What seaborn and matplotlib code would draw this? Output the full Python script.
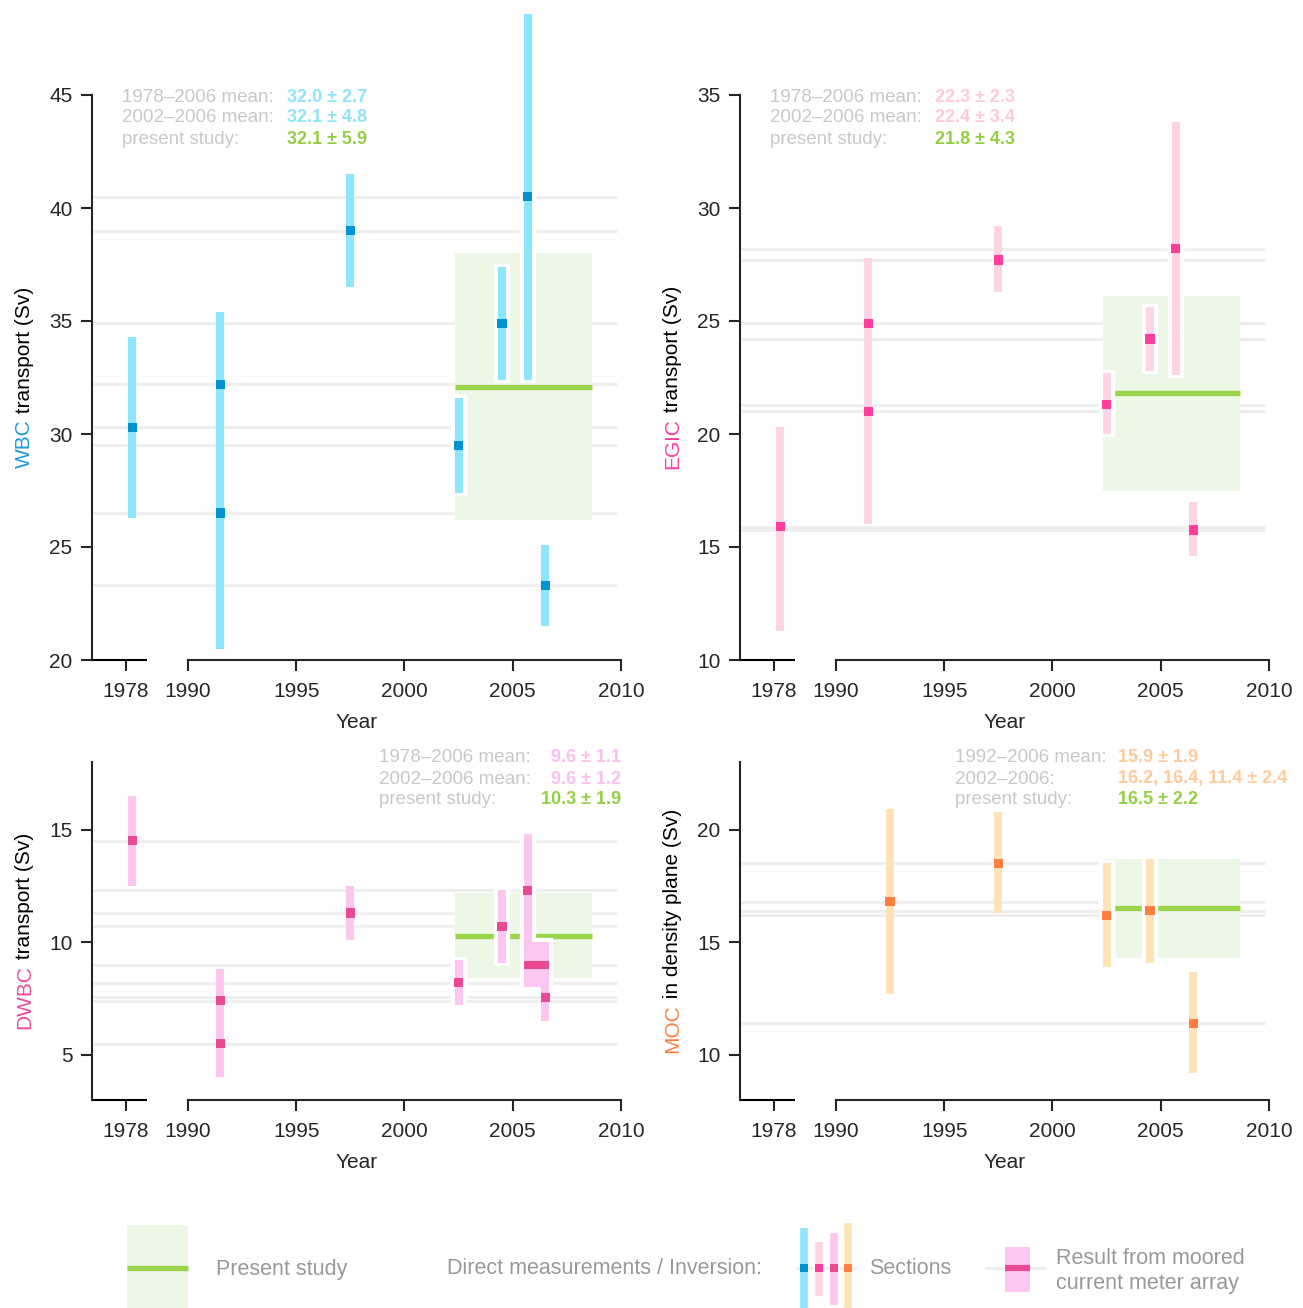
import matplotlib
matplotlib.use("Agg")
import matplotlib.pyplot as plt
from matplotlib import font_manager
from matplotlib.patches import Rectangle
import seaborn as sns

W, H = 1303, 1308

# --- measurements per panel: year, value, lower/upper end of the bar ---
wbc_year = [1978.3, 1991.5, 1991.5, 1997.5, 2002.5, 2004.5, 2005.7, 2006.5]
wbc_val = [30.3, 32.2, 26.5, 39.0, 29.5, 34.9, 40.5, 23.3]
wbc_lo = [26.3, 29.0, 20.5, 36.5, 27.4, 32.4, 32.4, 21.5]
wbc_hi = [34.3, 35.4, 32.5, 41.5, 31.6, 37.4, 48.6, 25.1]

egic_year = [1978.3, 1991.5, 1991.5, 1997.5, 2002.5, 2004.5, 2005.7, 2006.5]
egic_val = [15.9, 24.9, 21.0, 27.7, 21.3, 24.2, 28.2, 15.75]
egic_lo = [11.3, 22.0, 16.0, 26.3, 20.0, 22.8, 22.6, 14.6]
egic_hi = [20.3, 27.8, 26.1, 29.2, 22.7, 25.6, 33.8, 17.0]

dwbc_year = [1978.3, 1991.5, 1991.5, 1997.5, 2002.5, 2004.5, 2005.7, 2006.5]
dwbc_val = [14.5, 7.4, 5.5, 11.3, 8.2, 10.7, 12.3, 7.55]
dwbc_lo = [12.5, 5.9, 4.0, 10.1, 7.2, 9.1, 9.8, 6.5]
dwbc_hi = [16.5, 8.8, 7.0, 12.5, 9.2, 12.3, 14.8, 8.1]

moc_year = [1992.5, 1997.5, 2002.5, 2004.5, 2006.5]
moc_val = [16.8, 18.5, 16.2, 16.4, 11.4]
moc_lo = [12.7, 16.3, 13.9, 14.1, 9.2]
moc_hi = [20.9, 20.8, 18.5, 18.7, 13.7]

# present study (mean, std) and its period
study_mean = {"WBC": 32.1, "EGIC": 21.8, "DWBC": 10.3, "MOC": 16.5}
study_std = {"WBC": 5.9, "EGIC": 4.3, "DWBC": 1.9, "MOC": 2.2}
study_period = (2002.35, 2008.68)

# moored current meter array result (DWBC only)
moor_mean, moor_std, moor_period = 9.0, 1.0, (2005.52, 2006.68)

# text block in the upper part of each panel
stats_labels = {
    "WBC": ["1978\u20132006 mean:", "2002\u20132006 mean:", "present study:"],
    "EGIC": ["1978\u20132006 mean:", "2002\u20132006 mean:", "present study:"],
    "DWBC": ["1978\u20132006 mean:", "2002\u20132006 mean:", "present study:"],
    "MOC": ["1992\u20132006 mean:", "2002\u20132006:", "present study:"],
}
stats_values = {
    "WBC": ["32.0 \u00b1 2.7", "32.1 \u00b1 4.8", "32.1 \u00b1 5.9"],
    "EGIC": ["22.3 \u00b1 2.3", "22.4 \u00b1 3.4", "21.8 \u00b1 4.3"],
    "DWBC": ["9.6 \u00b1 1.1", "9.6 \u00b1 1.2", "10.3 \u00b1 1.9"],
    "MOC": ["15.9 \u00b1 1.9", "16.2, 16.4, 11.4 \u00b1 2.4", "16.5 \u00b1 2.2"],
}

x_ticks = [1978, 1990, 1995, 2000, 2005, 2010]
BREAK_SHIFT = 9.14          # 1978 is drawn left of the axis break
XLIM = (1985.57, 2010)
LEFT_SEG_END = 1988.1

sns.set_style("ticks")
names = {f.name for f in font_manager.fontManager.ttflist}
base = "Liberation Sans Narrow" if "Liberation Sans Narrow" in names else "Liberation Sans"
plt.rcParams["font.family"] = [base, "DejaVu Sans"]
plt.rcParams["axes.linewidth"] = 1.5

GREEN = "#9bd34a"
GREEN_BOX = "#ecf7e6"
GRID = "#efefef"
LABEL_GRAY = "#c8c8c8"
LEG_GRAY = "#999999"
STAT_GREEN = "#93cf42"
FS = 15

panels = {
    "WBC": dict(year=wbc_year, val=wbc_val, lo=wbc_lo, hi=wbc_hi, ylim=(20, 45), yticks=[20, 25, 30, 35, 40, 45],
                bar="#8ee6fc", mark="#0093d2", name_col="#1d9bd9", stat_col="#8ee4fb",
                rest="transport (Sv)", box=(92, 95, 621, 660), text=(122, 287, "left", 96)),
    "EGIC": dict(year=egic_year, val=egic_val, lo=egic_lo, hi=egic_hi, ylim=(10, 35), yticks=[10, 15, 20, 25, 30, 35],
                 bar="#ffd4e4", mark="#ff3d9b", name_col="#ff3d9b", stat_col="#ffcade",
                 rest="transport (Sv)", box=(740, 95, 1269, 660), text=(770, 935, "left", 96)),
    "DWBC": dict(year=dwbc_year, val=dwbc_val, lo=dwbc_lo, hi=dwbc_hi, ylim=(3, 18), yticks=[5, 10, 15],
                 bar="#fdc6f0", mark="#e94b92", name_col="#ee4a9a", stat_col="#fcbfee",
                 rest="transport (Sv)", box=(92, 762, 621, 1100), text=(379, 621, "right", 757)),
    "MOC": dict(year=moc_year, val=moc_val, lo=moc_lo, hi=moc_hi, ylim=(8, 23), yticks=[10, 15, 20],
                bar="#ffe3b6", mark="#ff7f40", name_col="#ff7f40", stat_col="#ffca9c",
                rest="in density plane (Sv)", box=(740, 762, 1269, 1100), text=(955, 1118, "left", 757)),
}


def to_x(year):
    return year + BREAK_SHIFT if year < 1985 else year


fig = plt.figure(figsize=(W / 100, H / 100), dpi=100)
BAR_LW = 5.8
ylabels = []

for name, p in panels.items():
    l, t, r, b = p["box"]
    ax = fig.add_axes([l / W, 1 - b / H, (r - l) / W, (b - t) / H])
    ax.set_xlim(*XLIM)
    ax.set_ylim(*p["ylim"])
    xs = [to_x(y) for y in p["year"]]
    px_per_unit = (b - t) / (p["ylim"][1] - p["ylim"][0])
    pad = 3 / px_per_unit

    # faint reference line through every estimate
    ref = list(p["val"]) + ([moor_mean] if name == "DWBC" else [])
    ax.hlines(ref, XLIM[0], 2009.8, color=GRID, lw=2.2, zorder=1)

    # present study: mean +- std band
    m, s = study_mean[name], study_std[name]
    ax.add_patch(Rectangle((study_period[0], m - s), study_period[1] - study_period[0], 2 * s,
                           fc=GREEN_BOX, ec="none", zorder=2))
    ax.hlines(m, *study_period, color=GREEN, lw=3.8, zorder=3)

    # white halos for bars in the recent period
    for x, yr, lo, hi in zip(xs, p["year"], p["lo"], p["hi"]):
        if 2002 <= yr <= 2006:
            ax.vlines(x, lo - pad, hi + pad, color="white", lw=BAR_LW + 6, zorder=4, clip_on=False)

    if name == "DWBC":
        mx0, mx1 = moor_period
        ax.add_patch(Rectangle((mx0, moor_mean - moor_std), mx1 - mx0, 2 * moor_std,
                               fc="white", ec="white", lw=6, zorder=4.2))
        ax.add_patch(Rectangle((mx0, moor_mean - moor_std), mx1 - mx0, 2 * moor_std,
                               fc=p["bar"], ec="none", zorder=4.5))
        ax.hlines(moor_mean, mx0, mx1, color=p["mark"], lw=BAR_LW, zorder=5.5)

    ax.vlines(xs, p["lo"], p["hi"], color=p["bar"], lw=BAR_LW, zorder=5, clip_on=False)
    sns.scatterplot(x=xs, y=p["val"], marker="s", s=44, color=p["mark"], edgecolor="none",
                    linewidth=0, zorder=6, clip_on=False, ax=ax)

    # axes styling with broken x axis
    sns.despine(ax=ax)
    ax.spines["bottom"].set_bounds(1990, 2010)
    ax.plot([XLIM[0], LEFT_SEG_END], [p["ylim"][0]] * 2, color="black", lw=1.5,
            solid_capstyle="butt", clip_on=False, zorder=7)
    ax.set_xticks([to_x(y) for y in x_ticks])
    ax.set_xticklabels([str(y) for y in x_ticks])
    ax.set_yticks(p["yticks"])
    ax.tick_params(axis="x", length=8, width=1.5, pad=7.5, labelsize=FS)
    ax.tick_params(axis="y", length=8, width=1.5, pad=6, labelsize=FS)
    ax.set_xlabel("Year", fontsize=FS, labelpad=9)
    lab = ax.set_ylabel(f"{name} {p['rest']}", fontsize=FS, labelpad=11)
    ylabels.append((ax, lab, name, p))

    # statistics text block
    lx, vx, vha, ty = p["text"]
    for i, (lt, vt) in enumerate(zip(stats_labels[name], stats_values[name])):
        yy = 1 - (ty + 1 + 21 * i) / H
        fig.text(lx / W, yy, lt, color=LABEL_GRAY, fontsize=13.5, va="center", ha="left")
        fig.text(vx / W, yy, vt, color=STAT_GREEN if i == 2 else p["stat_col"], fontsize=13,
                 fontweight="bold", va="center", ha=vha)

# two-coloured y labels
fig.canvas.draw()
for ax, lab, name, p in ylabels:
    bb = lab.get_window_extent()
    lab.set_visible(False)
    t1 = fig.text((bb.x0 + bb.x1) / 2 / W, bb.y0 / H, name, rotation=90, color=p["name_col"],
                  fontsize=FS, ha="center", va="bottom")
    ax.annotate(" " + p["rest"], xy=(0.5, 1), xycoords=t1, rotation=90, color="black",
                fontsize=FS, ha="center", va="bottom", annotation_clip=False)

# legend strip in pixel coordinates
lg = fig.add_axes([0, 0, 1, 1], zorder=-1)
lg.set_xlim(0, W)
lg.set_ylim(H, 0)
lg.axis("off")
LFS = 15.5
lg.add_patch(Rectangle((127, 1225), 61, 83, fc=GREEN_BOX, ec="none"))
lg.hlines(1268, 127, 188, color=GREEN, lw=3.8)
lg.text(216, 1269, "Present study", color=LEG_GRAY, fontsize=LFS, va="center")
lg.text(447, 1269, "Direct measurements / Inversion:", color=LEG_GRAY, fontsize=LFS, va="center")
lg.hlines(1268, 795, 857, color=GRID, lw=2.2)
leg_bars = [(804, 1228, 1308, "WBC"), (819, 1242, 1296, "EGIC"), (834, 1233, 1305, "DWBC"), (848, 1223, 1308, "MOC")]
for lx, y0, y1, key in leg_bars:
    lg.vlines(lx, y0, y1, color=panels[key]["bar"], lw=5.5, zorder=2)
    lg.scatter([lx], [1268], marker="s", s=30, color=panels[key]["mark"], edgecolor="none", zorder=3)
lg.text(869, 1269, "Sections", color=LEG_GRAY, fontsize=LFS, va="center")
lg.hlines(1268, 985, 1045, color=GRID, lw=2.2)
lg.add_patch(Rectangle((1005, 1247), 25, 45, fc=panels["DWBC"]["bar"], ec="none", zorder=2))
lg.hlines(1268, 1005, 1030, color=panels["DWBC"]["mark"], lw=4.5, zorder=3)
lg.text(1056, 1271, "Result from moored\ncurrent meter array", color=LEG_GRAY, fontsize=LFS,
        va="center", linespacing=1.3)

fig.savefig("out.png", dpi=100)
